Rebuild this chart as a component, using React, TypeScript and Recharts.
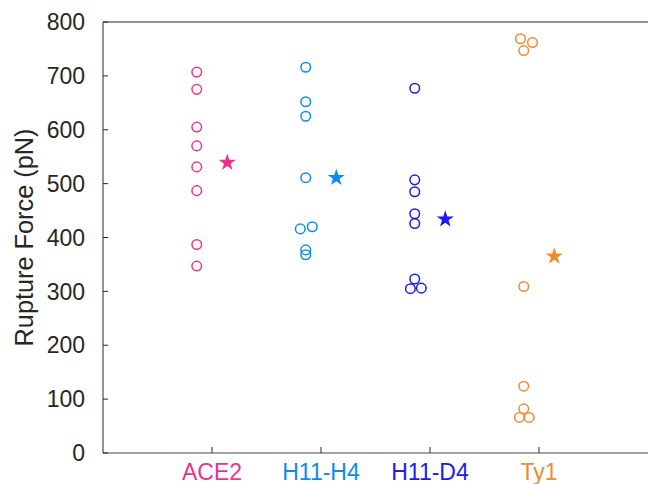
import { ReferenceLine, Scatter, ScatterChart, Symbols, XAxis, YAxis, ZAxis } from 'recharts';

// categories and colours
const categories = ['ACE2', 'H11-H4', 'H11-D4', 'Ty1'];
const colors = ['#E8348F', '#0D8BF2', '#1B1BEF', '#EF8B33'];

// rupture forces (pN)
const ace2Force = [707, 675, 605, 570, 531, 487, 387, 347];
const h11h4Force = [716, 652, 625, 511, 416, 420, 377, 368];
const h11d4Force = [677, 507, 485, 444, 426, 323, 305, 306];
const ty1Force = [769, 762, 747, 309, 124, 82, 66, 66];

// horizontal jitter of each circle, in category units
const ace2Jitter = [-0.14, -0.14, -0.14, -0.14, -0.14, -0.14, -0.14, -0.14];
const h11h4Jitter = [-0.14, -0.14, -0.14, -0.14, -0.19, -0.08, -0.14, -0.14];
const h11d4Jitter = [-0.14, -0.14, -0.14, -0.14, -0.14, -0.14, -0.18, -0.08];
const ty1Jitter = [-0.17, -0.06, -0.14, -0.14, -0.14, -0.14, -0.18, -0.09];

// mean markers (stars)
const meanForce = [539, 511, 434, 365];
const meanOffset = 0.14;

const yTicks = [0, 100, 200, 300, 400, 500, 600, 700, 800];
const xTicks = [1, 2, 3, 4];

const forces = [ace2Force, h11h4Force, h11d4Force, ty1Force];
const jitters = [ace2Jitter, h11h4Jitter, h11d4Jitter, ty1Jitter];

const FONT = '"Liberation Sans", Arial, Helvetica, sans-serif';
const INK = '#262626';

function CategoryTick(props: any) {
  const { x, y, payload } = props;
  const i = payload.value - 1;
  return (
    <text x={x} y={y} dy="0.71em" textAnchor="middle" fill={colors[i]} fontSize={23} fontFamily={FONT}>
      {categories[i]}
    </text>
  );
}

export default function App() {
  const series = forces.map((vals, i) =>
    vals.map((v, j) => ({ x: i + 1 + jitters[i][j], y: v }))
  );
  const stars = meanForce.map((v, i) => [{ x: i + 1 + meanOffset, y: v }]);

  return (
    <div style={{ position: 'absolute', left: 0, top: 0, background: '#fff' }}>
      <ScatterChart
        width={648}
        height={484}
        margin={{ top: 22, right: 0, bottom: 0, left: 0 }}
        style={{ fontFamily: FONT }}
      >
        <XAxis
          type="number"
          dataKey="x"
          domain={[0, 5]}
          ticks={xTicks}
          height={31}
          tickSize={-6}
          tickMargin={17}
          tick={CategoryTick}
          axisLine={{ stroke: '#858585', strokeWidth: 1.6 }}
          tickLine={{ stroke: INK }}
        />
        <YAxis
          type="number"
          dataKey="y"
          domain={[0, 800]}
          ticks={yTicks}
          width={103}
          tickSize={-5}
          tickMargin={23}
          tick={{ fill: INK, fontSize: 23, fontFamily: FONT }}
          axisLine={{ stroke: INK }}
          tickLine={{ stroke: INK }}
          label={{
            value: 'Rupture Force (pN)',
            angle: -90,
            position: 'insideLeft',
            offset: 24,
            fill: INK,
            fontSize: 25.3,
            style: { textAnchor: 'middle', fontFamily: FONT },
          }}
        />
        <ZAxis range={[72, 72]} />
        <ReferenceLine y={800} stroke={INK} strokeWidth={1} />
        {series.map((pts, i) => (
          <Scatter
            key={categories[i]}
            data={pts}
            isAnimationActive={false}
            shape={(p: any) => (
              <circle cx={p.cx} cy={p.cy} r={4.8} fill="none" stroke={colors[i]} strokeWidth={1.5} />
            )}
          />
        ))}
        {stars.map((pts, i) => (
          <Scatter
            key={`mean-${categories[i]}`}
            data={pts}
            isAnimationActive={false}
            shape={(p: any) => (
              <Symbols cx={p.cx} cy={p.cy} type="star" size={92} sizeType="area" fill={colors[i]} />
            )}
          />
        ))}
      </ScatterChart>
    </div>
  );
}
